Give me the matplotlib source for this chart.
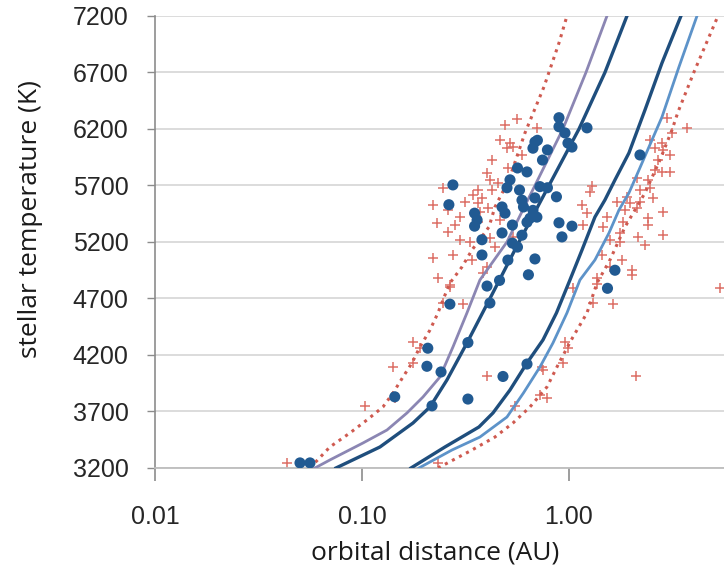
import numpy as np
import matplotlib
matplotlib.use("Agg")
import matplotlib.pyplot as plt
from matplotlib.ticker import FixedLocator, FixedFormatter, NullLocator

####################    DATA    ####################
# zone boundaries as (AU, K) pairs
inner_dotted_au = [0.0561, 0.0700, 0.0875, 0.1057, 0.1263, 0.1412, 0.1578, 0.1744, 0.1906, 0.2131,
                   0.2329, 0.2462, 0.2661, 0.3041, 0.3400, 0.4107, 0.439, 0.5129, 0.613, 0.757,
                   0.8948, 0.978]
inner_dotted_k = [3200, 3386, 3510, 3625, 3740, 3863, 4005, 4129, 4271, 4421,
                  4572, 4687, 4837, 4979, 5129, 5333, 5510, 5749, 6165, 6572,
                  6961, 7200]

inner_purple_au = [0.0593, 0.0700, 0.1011, 0.1321, 0.165, 0.1971, 0.238, 0.2752, 0.3215, 0.3715,
                   0.5017, 0.685, 0.935, 1.208, 1.526]
inner_purple_k = [3200, 3271, 3421, 3536, 3687, 3828, 4005, 4271, 4572, 4864,
                  5200, 5700, 6200, 6700, 7200]

inner_dark_au = [0.0749, 0.1222, 0.1764, 0.2131, 0.2574, 0.3215, 0.4154, 0.5735, 0.8006, 1.118,
                 1.492, 1.906]
inner_dark_k = [3200, 3386, 3598, 3740, 3979, 4306, 4700, 5200, 5700, 6200,
                6700, 7200]

outer_dark_au = [0.1725, 0.2518, 0.3675, 0.4295, 0.5188, 0.6268, 0.7489, 0.8702, 1.011,
                 1.156, 1.335, 1.492, 1.668, 1.949, 2.329, 2.814, 3.475]
outer_dark_k = [3200, 3386, 3563, 3687, 3890, 4129, 4333, 4572, 4864,
                5129, 5421, 5572, 5749, 5988, 6368, 6784, 7200]

outer_light_au = [0.1885, 0.2721, 0.3715, 0.5017, 0.6029, 0.7243, 0.8368, 0.978, 1.130, 1.335,
                  1.561, 1.744, 1.949, 2.179, 2.435, 2.814, 3.399, 4.153]
outer_light_k = [3200, 3359, 3474, 3651, 3864, 4094, 4306, 4572, 4864, 5041,
                 5280, 5483, 5634, 5837, 6041, 6306, 6749, 7200]

outer_dotted_au = [0.2329, 0.340, 0.439, 0.5364, 0.6481, 0.7829, 0.8948, 1.045, 1.222, 1.366,
                   1.578, 1.865, 2.329, 2.752, 3.145, 3.362, 4.017, 5.246]
outer_dotted_k = [3200, 3359, 3474, 3598, 3740, 3917, 4129, 4359, 4572, 4837,
                  5041, 5333, 5634, 5926, 6191, 6350, 6704, 7200]

# planets (blue dots)
dot_au = [0.0502, 0.0561, 0.144, 0.206, 0.208, 0.241, 0.218, 0.266, 0.325, 0.325,
          0.402, 0.415, 1.535, 0.480, 0.627, 0.462, 0.895, 0.895, 0.957, 1.222,
          0.989, 1.034, 0.685, 0.704, 0.670, 0.787, 0.745, 0.564, 0.627, 0.519,
          0.502, 0.577, 0.724, 0.787, 0.870, 0.685, 0.593, 0.475, 0.603, 0.670,
          0.491, 0.648, 0.533, 0.627, 0.895, 1.034, 0.925, 0.475, 0.593, 0.533,
          0.564, 0.380, 0.380, 0.685, 0.507, 0.637, 2.203, 1.668, 0.275, 0.263,
          0.350, 0.360, 0.350, 0.700]
dot_temp = [3245, 3245, 3830, 4100, 4260, 4050, 3750, 4650, 4310, 3810,
            4810, 4660, 4790, 4010, 4120, 4860, 6300, 6220, 6165, 6210,
            6075, 6040, 6085, 6100, 6030, 6015, 5925, 5855, 5820, 5750,
            5680, 5660, 5690, 5680, 5600, 5590, 5570, 5510, 5510, 5480,
            5455, 5410, 5350, 5375, 5370, 5340, 5245, 5280, 5260, 5190,
            5155, 5220, 5085, 5050, 5040, 4910, 5970, 4950, 5705, 5530,
            5455, 5395, 5340, 5420]

# red crosses
plus_au = [0.0434, 0.103, 0.141, 0.176, 0.191, 0.176, 0.144, 0.308, 0.266, 0.246,
           0.402, 0.233, 1.045, 1.632, 1.306, 0.957, 0.989, 0.935, 0.741, 0.749,
           0.724, 0.783, 0.548, 2.107, 5.36, 1.366,
           0.561, 0.491, 0.700, 0.464, 0.519, 0.502, 0.536, 0.593, 0.425, 0.507,
           0.402, 0.415, 0.454, 0.246, 0.364, 0.425, 0.344, 0.380, 0.315, 0.364,
           0.406, 0.220, 0.260, 0.297, 0.372, 0.230, 0.281, 0.464, 0.260, 0.297,
           0.415, 0.333, 0.439, 0.536, 0.220, 0.275, 0.340, 0.233, 0.384, 0.266,
           0.364, 0.402,
           2.975, 3.715, 3.145, 2.462, 2.814, 2.603, 2.845, 3.075, 2.692, 2.603,
           2.814, 3.075, 2.130, 2.408, 1.292, 1.263, 2.203, 2.462, 2.545, 1.906,
           1.971, 2.203, 1.156, 2.130, 1.706, 1.222, 2.845, 1.865, 1.526, 2.408,
           1.824, 1.169, 1.459, 2.408, 1.764, 2.154, 2.845, 1.578, 1.764, 2.329,
           1.443, 1.803, 1.578, 2.016, 2.016, 1.366]
plus_temp = [3245, 3750, 4095, 4315, 4260, 4130, 3820, 4650, 4800, 4660,
             4015, 3245, 4795, 4650, 4660, 4315, 4260, 4130, 4095, 4065,
             3845, 3820, 3750, 4015, 4795, 4830,
             6290, 6235, 6210, 6105, 6075, 6030, 6040, 5970, 5925, 5855,
             5810, 5750, 5720, 5680, 5660, 5660, 5615, 5590, 5555, 5545,
             5500, 5525, 5485, 5420, 5465, 5370, 5350, 5395, 5290, 5220,
             5235, 5200, 5155, 5245, 5060, 5085, 5040, 4880, 4925, 4820,
             5375, 4980,
             6300, 6210, 6165, 6105, 6075, 6030, 6015, 5970, 5925, 5835,
             5820, 5820, 5765, 5750, 5695, 5640, 5660, 5680, 5590, 5600,
             5545, 5555, 5525, 5500, 5555, 5455, 5465, 5485, 5420, 5410,
             5375, 5350, 5335, 5350, 5280, 5245, 5260, 5220, 5200, 5175,
             5085, 5040, 4980, 4950, 4910, 4880]

x_ticks = [0.01, 0.1, 1.0]
x_tick_labels = ["0.01", "0.10", "1.00"]
y_ticks = [3200, 3700, 4200, 4700, 5200, 5700, 6200, 6700, 7200]

####################    PLOT    ####################
fig = plt.figure(figsize=(7.24, 5.71), dpi=100)
ax = fig.add_axes([0.214, 0.1804, 0.786, 0.7916])

red = "#cf5a50"
dots = (0, (1, 1.6))
ax.plot(inner_dotted_au, inner_dotted_k, color=red, linestyle=dots, lw=2.2, zorder=3)
ax.plot(outer_dotted_au, outer_dotted_k, color=red, linestyle=dots, lw=2.2, zorder=3)
ax.plot(inner_purple_au, inner_purple_k, color="#8b86b3", lw=2, zorder=3)
ax.plot(inner_dark_au, inner_dark_k, color="#1f4e7d", lw=2.4, zorder=3)
ax.plot(outer_dark_au, outer_dark_k, color="#1f4e7d", lw=2.4, zorder=3)
ax.plot(outer_light_au, outer_light_k, color="#5d93c9", lw=2, zorder=3)

ax.scatter(plus_au, plus_temp, marker="+", s=55, linewidths=1.1, color="#dc6f66", zorder=2, clip_on=False)
ax.scatter(dot_au, dot_temp, marker="o", s=64, color="#215a92", edgecolors="none", zorder=4)

ax.set_xscale("log")
ax.set_xlim(0.01, 5.61)
ax.set_ylim(3200, 7200)

ax.xaxis.set_major_locator(FixedLocator(x_ticks))
ax.xaxis.set_major_formatter(FixedFormatter(x_tick_labels))
ax.xaxis.set_minor_locator(NullLocator())
ax.set_yticks(y_ticks)

ax.yaxis.grid(True, color="#d9d9d9", lw=1.3)
ax.set_axisbelow(True)
for s in ["top", "right"]:
    ax.spines[s].set_visible(False)
ax.spines["left"].set_color("#8c8c8c")
ax.spines["bottom"].set_color("#bdbdbd")
ax.spines["left"].set_linewidth(1.2)
ax.spines["bottom"].set_linewidth(1.3)

ax.tick_params(axis="y", length=6, width=1, color="#8c8c8c", pad=13,
               labelsize=18, labelcolor="#262626")
ax.tick_params(axis="x", length=9, width=1.2, color="#8c8c8c", pad=18,
               labelsize=18, labelcolor="#262626")
for lab in ax.get_xticklabels() + ax.get_yticklabels():
    lab.set_fontfamily("Liberation Sans")

ax.set_xlabel("orbital distance (AU)", fontsize=19, family="Open Sans", color="#1a1a1a")
ax.set_ylabel("stellar temperature (K)", fontsize=19, family="Open Sans", color="#1a1a1a")
ax.xaxis.set_label_coords(0.492, -0.161)
ax.yaxis.set_label_coords(-0.197, 0.551)

fig.savefig("out.png", dpi=100)
